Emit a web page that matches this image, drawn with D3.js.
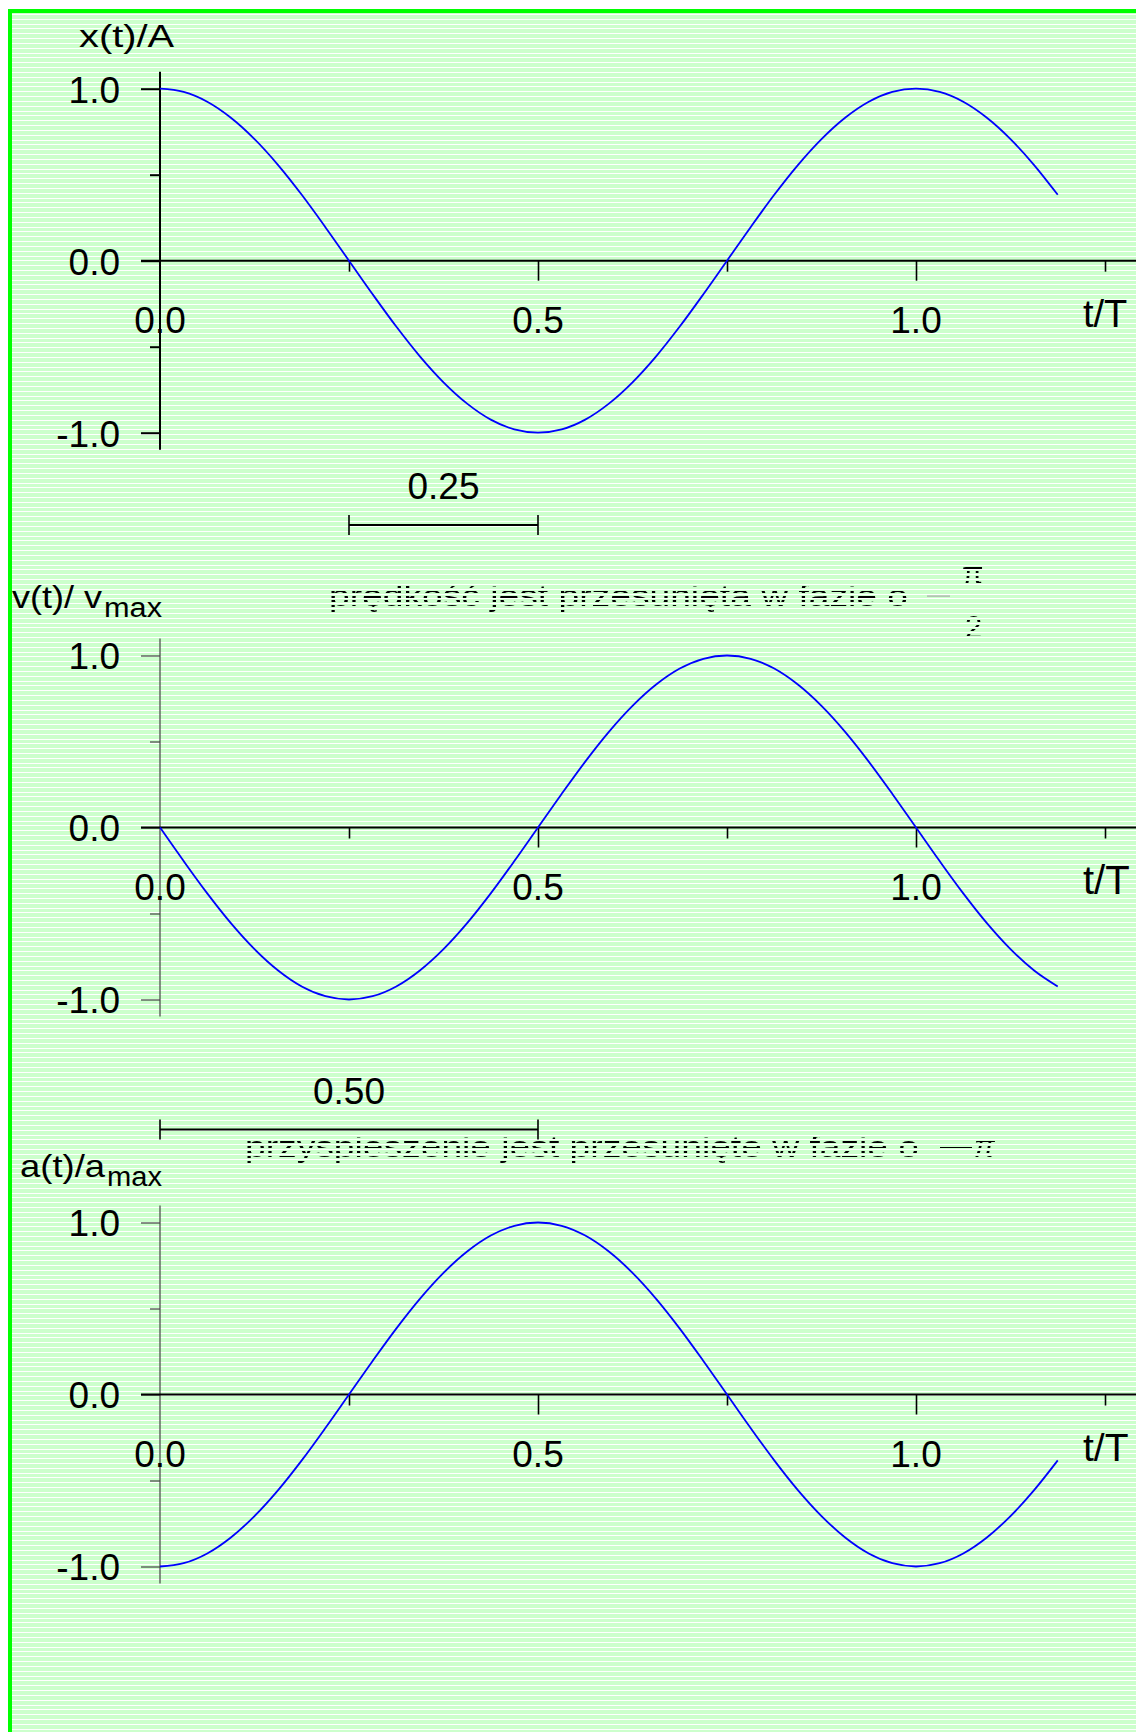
<!DOCTYPE html>
<html>
<head>
<meta charset="utf-8">
<script src="https://cdn.jsdelivr.net/npm/d3@7/dist/d3.min.js"></script>
<style>
  html, body { margin: 0; padding: 0; background: #ffffff; }
  svg { display: block; }
  text { font-family: "Liberation Sans", Arial, sans-serif; }
</style>
</head>
<body>
<script>
// ---------- data ----------
const tValues = [0, 0.03125, 0.0625, 0.09375, 0.125, 0.15625, 0.1875, 0.21875, 0.25, 0.28125,
                 0.3125, 0.34375, 0.375, 0.40625, 0.4375, 0.46875, 0.5, 0.53125, 0.5625, 0.59375,
                 0.625, 0.65625, 0.6875, 0.71875, 0.75, 0.78125, 0.8125, 0.84375, 0.875, 0.90625,
                 0.9375, 0.96875, 1.0, 1.03125, 1.0625, 1.09375, 1.125, 1.15625, 1.1875];
const xValues = [1, 0.981, 0.924, 0.831, 0.707, 0.556, 0.383, 0.195, 0, -0.195,
                 -0.383, -0.556, -0.707, -0.831, -0.924, -0.981, -1, -0.981, -0.924, -0.831,
                 -0.707, -0.556, -0.383, -0.195, 0, 0.195, 0.383, 0.556, 0.707, 0.831,
                 0.924, 0.981, 1, 0.981, 0.924, 0.831, 0.707, 0.556, 0.383];
const vValues = [0, -0.195, -0.383, -0.556, -0.707, -0.831, -0.924, -0.981, -1, -0.981,
                 -0.924, -0.831, -0.707, -0.556, -0.383, -0.195, 0, 0.195, 0.383, 0.556,
                 0.707, 0.831, 0.924, 0.981, 1, 0.981, 0.924, 0.831, 0.707, 0.556,
                 0.383, 0.195, 0, -0.195, -0.383, -0.556, -0.707, -0.831, -0.924];
const aValues = [-1, -0.981, -0.924, -0.831, -0.707, -0.556, -0.383, -0.195, 0, 0.195,
                 0.383, 0.556, 0.707, 0.831, 0.924, 0.981, 1, 0.981, 0.924, 0.831,
                 0.707, 0.556, 0.383, 0.195, 0, -0.195, -0.383, -0.556, -0.707, -0.831,
                 -0.924, -0.981, -1, -0.981, -0.924, -0.831, -0.707, -0.556, -0.383];

const yMajorTicks = [-1, 0, 1];
const yMinorTicks = [-0.5, 0.5];
const xMajorTicks = [0.5, 1.0];
const xMinorTicks = [0.25, 0.75, 1.25];
const xLabelValues = [0, 0.5, 1.0];
const xLabelTexts = ["0.0", "0.5", "1.0"];
const xAxisTitle = "t/T";

const titleMain = ["x(t)/A", "v(t)/ v", "a(t)/a"];
const titleSub = ["", "max", "max"];

const bracketFrom = [0.25, 0.0];
const bracketTo = [0.5, 0.5];
const bracketLabels = ["0.25", "0.50"];

const note1 = "prędkość jest przesunięta w fazie o";
const note2 = "przyspieszenie jest przesunięte w fazie o";

// ---------- layout ----------
const W = 1136, H = 1732;
const svg = d3.select("body").append("svg").attr("width", W).attr("height", H);
const defs = svg.append("defs");

// background
svg.append("rect").attr("x", 8).attr("y", 9).attr("width", W - 8).attr("height", H - 9).attr("fill", "#00ff00");
svg.append("rect").attr("x", 12).attr("y", 13).attr("width", W - 12).attr("height", H - 13).attr("fill", "#ccffcc");
const stripeY = d3.range(0, 360).map(i => Math.round(14 + i * 4.83)).filter(y => y < H);
svg.append("g").selectAll("rect").data(stripeY).join("rect")
  .attr("x", 12).attr("y", d => d).attr("width", W - 12).attr("height", 1).attr("fill", "#ffffff");

// mask for the dotted annotation text
const mask = defs.append("mask").attr("id", "rows").attr("maskUnits", "userSpaceOnUse")
  .attr("x", 0).attr("y", 0).attr("width", W).attr("height", H);
mask.selectAll("rect").data(stripeY).join("rect")
  .attr("x", 0).attr("y", d => d + 2).attr("width", W).attr("height", 2).attr("fill", "#fff");

const x = d3.scaleLinear().domain([0, 1.25]).range([160, 1105]);

const panels = [
  { zero: 260.7, values: xValues, axisW: 2, axisC: "#000", titleY: 47, titleX: 79, titleLen: 95, subX: 0, subLen: 0, tY: 327, tSize: 38 },
  { zero: 827.5, values: vValues, axisW: 1.2, axisC: "#444", titleY: 608, titleX: 12, titleLen: 90, subX: 104, subLen: 58, tY: 894, tSize: 40 },
  { zero: 1394.5, values: aValues, axisW: 1.2, axisC: "#444", titleY: 1177, titleX: 20, titleLen: 85, subX: 107, subLen: 55, tY: 1461, tSize: 39 }
];

panels.forEach((p, i) => {
  const y = d3.scaleLinear().domain([-1, 1]).range([p.zero + 172, p.zero - 172]);
  const g = svg.append("g");

  // y axis line
  g.append("line").attr("x1", x(0)).attr("x2", x(0))
    .attr("y1", y(1) - 17).attr("y2", y(-1) + 17)
    .attr("stroke", p.axisC).attr("stroke-width", p.axisW);

  const yMajor = d3.axisLeft(y).tickValues(yMajorTicks).tickSize(19).tickPadding(21)
    .tickFormat(d => d.toFixed(1));
  const ga = g.append("g").attr("transform", `translate(${x(0)},0)`).call(yMajor);
  ga.select(".domain").remove();
  ga.selectAll(".tick line").attr("stroke", p.axisC).attr("stroke-width", p.axisW);
  ga.selectAll(".tick text").attr("fill", "#000").style("font-size", "37px")
    .style("font-family", "'Liberation Sans', Arial, sans-serif").attr("dy", "0.36em");

  const yMinor = d3.axisLeft(y).tickValues(yMinorTicks).tickSize(10).tickFormat("");
  const gm = g.append("g").attr("transform", `translate(${x(0)},0)`).call(yMinor);
  gm.select(".domain").remove();
  gm.selectAll(".tick line").attr("stroke", p.axisC).attr("stroke-width", p.axisW);

  // x axis (zero line)
  g.append("line").attr("x1", 141).attr("x2", W)
    .attr("y1", y(0)).attr("y2", y(0)).attr("stroke", "#000").attr("stroke-width", 2);

  const xMaj = d3.axisBottom(x).tickValues(xMajorTicks).tickSize(20).tickFormat("");
  const gx = g.append("g").attr("transform", `translate(0,${y(0)})`).call(xMaj);
  gx.select(".domain").remove();
  gx.selectAll(".tick line").attr("stroke", "#000").attr("stroke-width", 1.6);

  const xMin = d3.axisBottom(x).tickValues(xMinorTicks).tickSize(11).tickFormat("");
  const gx2 = g.append("g").attr("transform", `translate(0,${y(0)})`).call(xMin);
  gx2.select(".domain").remove();
  gx2.selectAll(".tick line").attr("stroke", "#000").attr("stroke-width", 1.6);

  g.append("g").selectAll("text").data(xLabelValues).join("text")
    .attr("x", d => x(d)).attr("y", y(0) + 72)
    .attr("text-anchor", "middle").style("font-size", "37px").attr("fill", "#000")
    .text((d, k) => xLabelTexts[k]);

  g.append("text").attr("x", 1083).attr("y", p.tY).style("font-size", p.tSize + "px")
    .attr("fill", "#000").text(xAxisTitle);

  // title
  g.append("text").attr("x", p.titleX).attr("y", p.titleY).style("font-size", "32px")
    .attr("fill", "#000").attr("textLength", p.titleLen).attr("lengthAdjust", "spacingAndGlyphs")
    .text(titleMain[i]);
  if (titleSub[i]) {
    g.append("text").attr("x", p.subX).attr("y", p.titleY + 9).style("font-size", "27px")
      .attr("fill", "#000").attr("textLength", p.subLen).attr("lengthAdjust", "spacingAndGlyphs")
      .text(titleSub[i]);
  }

  // curve
  const pts = tValues.map((t, k) => ({ t: t, v: p.values[k] }));
  const line = d3.line().x(d => x(d.t)).y(d => y(d.v)).curve(d3.curveMonotoneX);
  g.append("path").datum(pts).attr("d", line)
    .attr("fill", "none").attr("stroke", "#0000ff").attr("stroke-width", 1.8);
});

// brackets
const bracketLineY = [525, 1129.5];
const bracketTextY = [499, 1104];
bracketLabels.forEach((lab, i) => {
  const g = svg.append("g");
  const x1 = x(bracketFrom[i]), x2 = x(bracketTo[i]), yy = bracketLineY[i];
  g.append("line").attr("x1", x1).attr("x2", x2).attr("y1", yy).attr("y2", yy)
    .attr("stroke", "#000").attr("stroke-width", 2);
  [x1, x2].forEach(xx => g.append("line").attr("x1", xx).attr("x2", xx)
    .attr("y1", yy - 10).attr("y2", yy + 10).attr("stroke", "#000").attr("stroke-width", 1.6));
  g.append("text").attr("x", (x1 + x2) / 2).attr("y", bracketTextY[i])
    .attr("text-anchor", "middle").style("font-size", "37px").attr("fill", "#000").text(lab);
});

// annotations (dotted look)
const ann = svg.append("g").attr("mask", "url(#rows)").attr("fill", "#000");
ann.append("text").attr("x", 329).attr("y", 606).style("font-size", "30px")
  .attr("textLength", 579).attr("lengthAdjust", "spacingAndGlyphs").text(note1);
ann.append("text").attr("x", 962).attr("y", 584).style("font-size", "31px").text("π");
ann.append("text").attr("x", 965).attr("y", 638).style("font-size", "31px").text("2");
ann.append("text").attr("x", 245).attr("y", 1157).style("font-size", "30px")
  .attr("textLength", 674).attr("lengthAdjust", "spacingAndGlyphs").text(note2);
ann.append("rect").attr("x", 940).attr("y", 1147).attr("width", 32).attr("height", 3);
ann.append("text").attr("x", 974).attr("y", 1157).style("font-size", "31px").style("font-style", "italic").text("π");

// solid grey minus for the first annotation
svg.append("rect").attr("x", 927).attr("y", 595.5).attr("width", 23).attr("height", 1.2).attr("fill", "#aaa");
</script>
</body>
</html>
